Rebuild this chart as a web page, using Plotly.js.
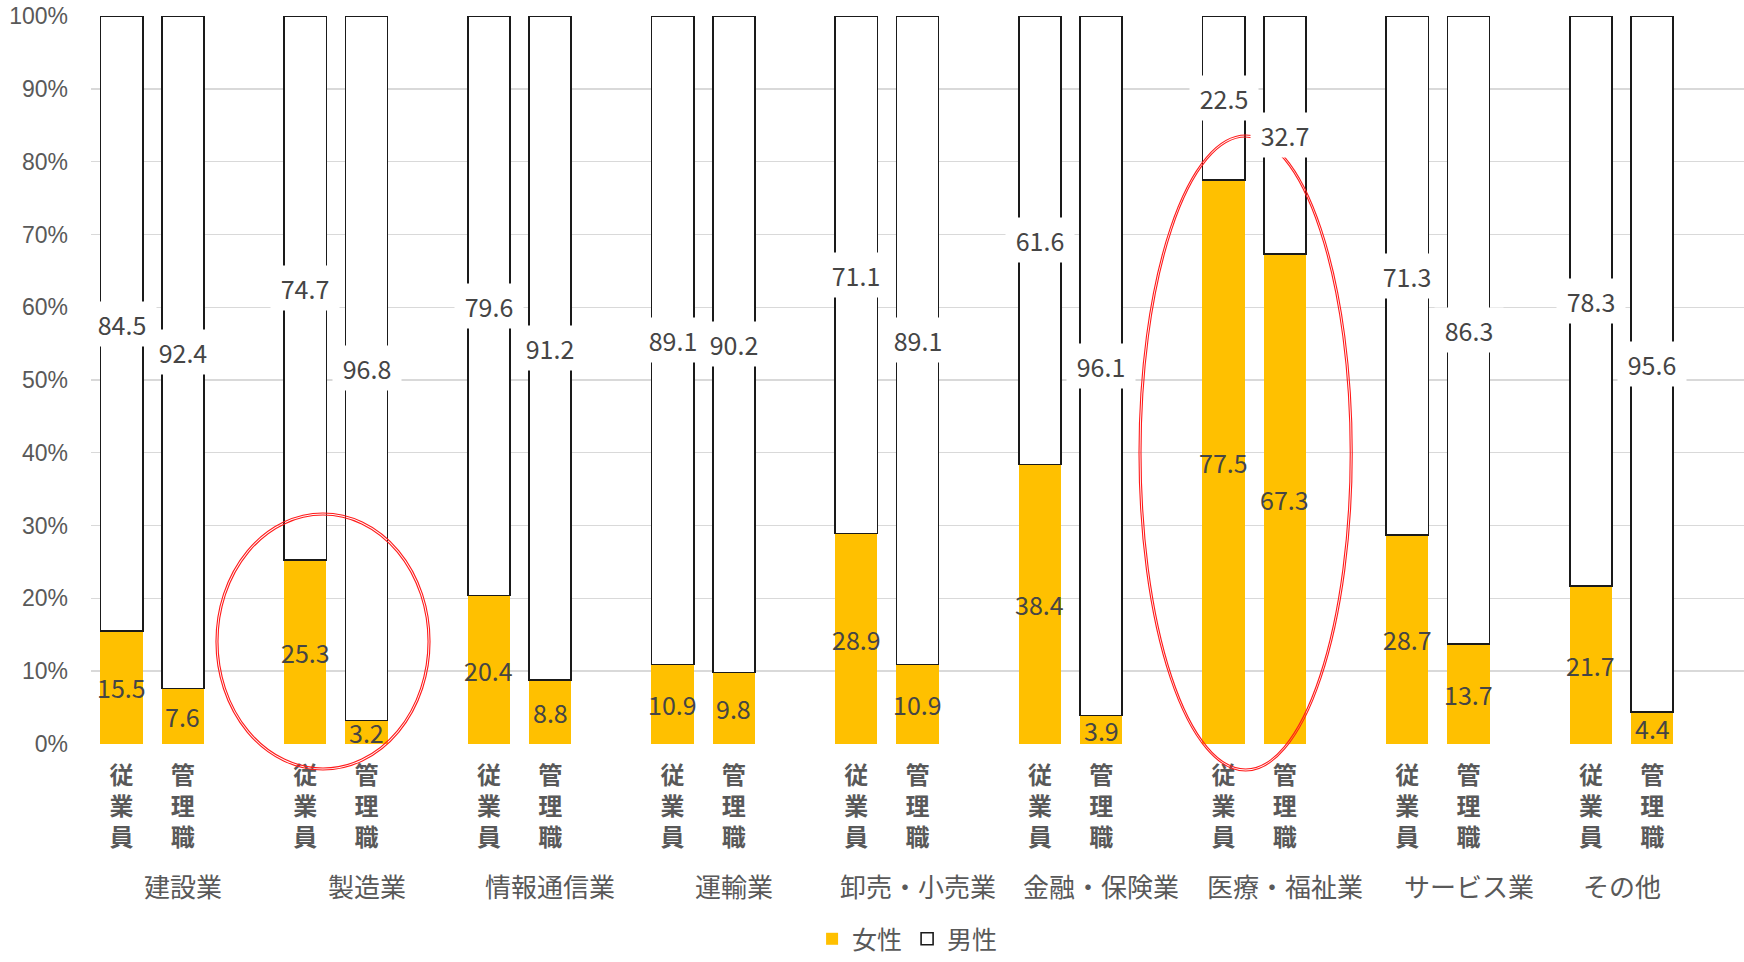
<!DOCTYPE html>
<html>
<head>
<meta charset="utf-8">
<script src="https://cdn.plot.ly/plotly-3.0.1.min.js"></script>
<style>html,body{margin:0;padding:0;background:#fff;}#chart{width:1744px;height:962px;}</style>
</head>
<body>
<div id="chart"></div>
<script>
const industries = ["建設業","製造業","情報通信業","運輸業","卸売・小売業","金融・保険業","医療・福祉業","サービス業","その他"];
const roles = ["従業員","管理職"];
const femaleEmployees = [15.5,25.3,20.4,10.9,28.9,38.4,77.5,28.7,21.7];
const maleEmployees   = [84.5,74.7,79.6,89.1,71.1,61.6,22.5,71.3,78.3];
const femaleManagers  = [7.6,3.2,8.8,9.8,10.9,3.9,67.3,13.7,4.4];
const maleManagers    = [92.4,96.8,91.2,90.2,89.1,96.1,32.7,86.3,95.6];
const yTicks = [0,10,20,30,40,50,60,70,80,90,100];
const yTickText = ["0%","10%","20%","30%","40%","50%","60%","70%","80%","90%","100%"];

const FONT = '"Noto Sans CJK JP", "Noto Sans", sans-serif';
const LFONT = '"Liberation Sans", "Noto Sans CJK JP", sans-serif';
const GREY = '#595959';

// positions: each industry uses 3 slots (employee, manager, blank); last group has no trailing blank
const xs = [], female = [], male = [], tickText = [];
industries.forEach((ind, i) => {
  xs.push(3*i, 3*i+1);
  female.push(femaleEmployees[i], femaleManagers[i]);
  male.push(maleEmployees[i], maleManagers[i]);
  roles.forEach(r => tickText.push(r.split('').join('<br>')));
});

const traces = [
  {type:'bar', name:'女性', x:xs, y:female, width:0.69,
   marker:{color:'#FFC000', line:{width:0}}, hoverinfo:'skip'},
  {type:'bar', name:'男性', x:xs, y:male, width:0.69,
   marker:{color:'#ffffff', line:{color:'#1a1a1a', width:1.6}}, hoverinfo:'skip'}
];

const annotations = [];
xs.forEach((x, k) => {
  annotations.push({x:x, y:female[k]/2, xref:'x', yref:'y', text:String(female[k]),
    showarrow:false, font:{family:FONT, size:25, color:'#454545'}});
  annotations.push({x:x, y:female[k] + male[k]/2, xref:'x', yref:'y', text:String(male[k]),
    showarrow:false, font:{family:FONT, size:25, color:'#454545'},
    bgcolor:'#ffffff', width:62, height:38, borderpad:3});
});
industries.forEach((ind, i) => {
  const slots = (i < industries.length - 1) ? 3 : 2;
  annotations.push({x:3*i + (slots-1)/2, y:-0.1944, xref:'x', yref:'paper', text:ind, showarrow:false,
    yanchor:'middle', font:{family:FONT, size:26, color:GREY}});
});

function ellipse(x0,x1,y0,y1,inset){
  const dx = inset/1653, dy = inset/728;
  return {type:'circle', xref:'paper', yref:'paper', x0:x0+dx, x1:x1-dx, y0:y0+dy, y1:y1-dy,
    line:{color:'#ff1a1a', width:1.1}, fillcolor:'rgba(0,0,0,0)', layer:'above'};
}
const shapes = [
  ellipse(0.0756,0.2051,-0.0357,0.3173,0), ellipse(0.0756,0.2051,-0.0357,0.3173,2),
  ellipse(0.634,0.763,-0.0371,0.8365,0), ellipse(0.634,0.763,-0.0371,0.8365,2)
];

const layout = {
  width:1744, height:962,
  margin:{l:91, r:0, t:16, b:218, autoexpand:false},
  paper_bgcolor:'#ffffff', plot_bgcolor:'#ffffff',
  barmode:'stack',
  font:{family:FONT, color:GREY},
  showlegend:true,
  legend:{orientation:'h', x:0.494, xanchor:'center', y:-0.2995, yanchor:'bottom',
    font:{family:FONT, size:25, color:GREY}, itemwidth:30, traceorder:'normal'},
  xaxis:{range:[-0.5,26.5], tickmode:'array', tickvals:xs, ticktext:tickText,
    showgrid:false, zeroline:false, showline:false, ticks:'', automargin:false,
    tickfont:{family:LFONT, size:24, color:GREY, weight:'bold'}, tickangle:0, ticklabelstandoff:15},
  yaxis:{range:[-0.02,100.02], tickmode:'array', tickvals:yTicks, ticktext:yTickText,
    showgrid:true, gridcolor:'#d9d9d9', gridwidth:1.3, zeroline:false, showline:false, ticks:'',
    automargin:false, ticklabeloverflow:'allow',
    tickfont:{family:LFONT, size:23, color:GREY}, ticklabelstandoff:22},
  annotations:annotations,
  shapes:shapes
};

Plotly.newPlot('chart', traces, layout, {displayModeBar:false, staticPlot:true});
</script>
</body>
</html>
